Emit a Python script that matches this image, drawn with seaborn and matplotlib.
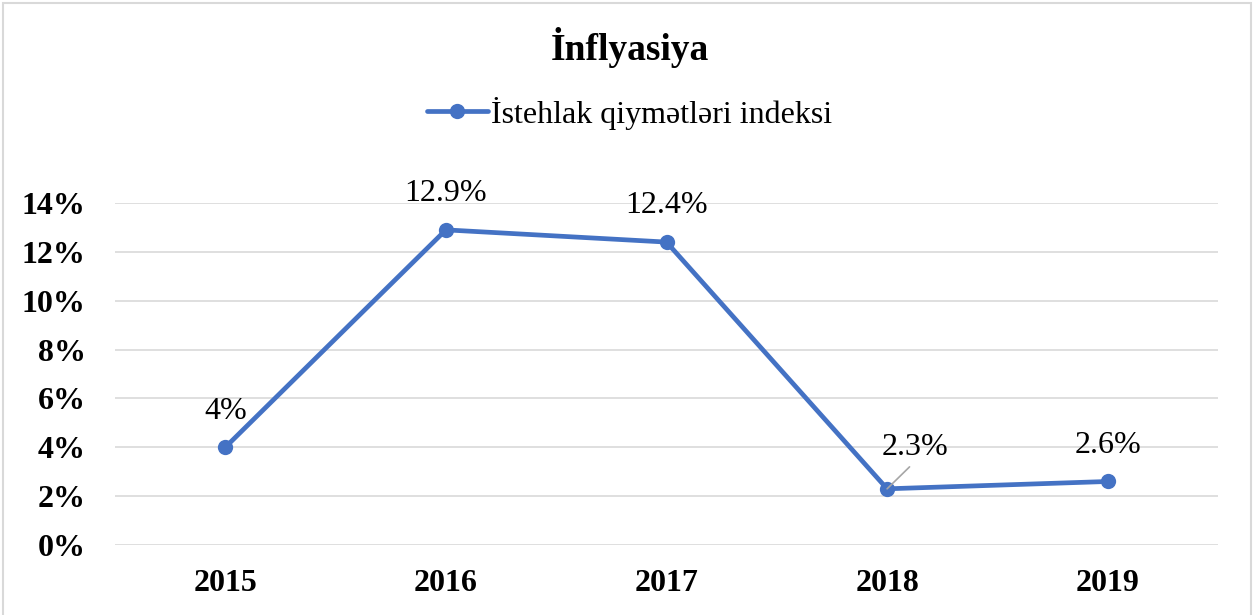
import pandas as pd
import matplotlib.pyplot as plt
import seaborn as sns
from matplotlib.patches import Rectangle
from matplotlib.ticker import PercentFormatter

# data
years = ['2015', '2016', '2017', '2018', '2019']
cpi = [0.04, 0.129, 0.124, 0.023, 0.026]
labels = ['4%', '12.9%', '12.4%', '2.3%', '2.6%']
series_name = 'İstehlak qiymətləri indeksi'
title = 'İnflyasiya'

df = pd.DataFrame({'year': years, 'value': cpi})

sns.set_style('white')
plt.rcParams['font.family'] = ['Liberation Serif', 'DejaVu Serif']
plt.rcParams['text.color'] = 'black'
plt.rcParams['xtick.color'] = 'black'
plt.rcParams['ytick.color'] = 'black'

fig = plt.figure(figsize=(12.59, 6.15), dpi=100)
ax = fig.add_axes([115 / 1259, 1 - 545 / 615, 1103 / 1259, 342 / 615])

blue = '#4472C4'
sns.lineplot(data=df, x='year', y='value', ax=ax, color=blue, linewidth=3.4,
             marker='o', markersize=11, markeredgewidth=0, label=series_name,
             sort=False)

ax.set_xlim(-0.5, 4.5)
ax.set_ylim(0, 0.14)
ax.set_yticks([0, 0.02, 0.04, 0.06, 0.08, 0.10, 0.12, 0.14])
ax.yaxis.set_major_formatter(PercentFormatter(1.0, decimals=0))
ax.grid(axis='y', color='#D9D9D9', linewidth=1.2)
ax.set_axisbelow(True)
for s in ax.spines.values():
    s.set_visible(False)
ax.tick_params(axis='y', length=0, pad=21, labelsize=23)
ax.tick_params(axis='x', length=0, pad=17, labelsize=23)
for t in ax.get_xticklabels() + ax.get_yticklabels():
    t.set_fontweight('bold')
ax.set_xlabel('')
ax.set_ylabel('')

# data labels
for i, (v, lab) in enumerate(zip(cpi, labels)):
    if i == 3:
        ax.annotate(lab, xy=(i, v), xytext=(20, 30), textcoords='offset points',
                    ha='center', va='center', fontsize=23,
                    arrowprops=dict(arrowstyle='-', color='#A6A6A6', lw=1.2,
                                    shrinkA=2, shrinkB=0, relpos=(0.5, 0)))
    else:
        ax.annotate(lab, xy=(i, v), xytext=(0, 26), textcoords='offset points',
                    ha='center', va='center', fontsize=23)

# legend and title
leg = ax.legend(loc='center', bbox_to_anchor=(0.5, 1 - 113 / 615),
                bbox_transform=fig.transFigure, frameon=False, fontsize=23,
                handlelength=1.9, handletextpad=0.1)
fig.text(0.5, 1 - 47 / 615, title, ha='center', va='center',
         fontsize=27, fontweight='bold')

# chart border
fig.patches.append(Rectangle((3 / 1259, -0.05), 1248 / 1259, 1.05 - 3 / 615,
                             transform=fig.transFigure, fill=False,
                             edgecolor='#D9D9D9', linewidth=1.5))

fig.savefig('out.png', dpi=100)
